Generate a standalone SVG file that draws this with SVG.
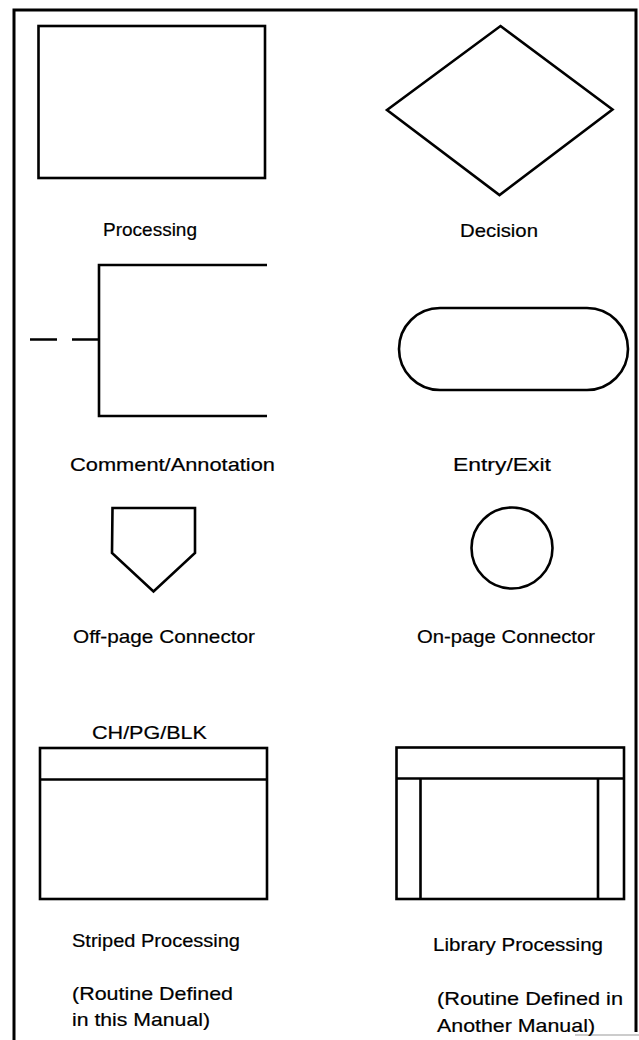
<svg xmlns="http://www.w3.org/2000/svg" width="639" height="1040" viewBox="0 0 639 1040">
<style>
.s{fill:none;stroke:#000;stroke-width:2.6;stroke-linejoin:miter}
.b{fill:none;stroke:#000;stroke-width:3}
.t{font-family:"Liberation Sans",Arial,sans-serif;font-size:19px;fill:#000;stroke:#000;stroke-width:0.2px}
.c{text-anchor:middle}
</style>
<rect width="639" height="1040" fill="#fff"/>
<g id="frame">
<path class="b" d="M14,1040 V10 H636 V1032"/>
<path d="M575,1035 H639" stroke="#ccc" stroke-width="2"/>
</g>
<g id="processing">
<rect class="s" x="38.5" y="26" width="226.5" height="152"/>
<text class="t c" x="150" y="236" textLength="94" lengthAdjust="spacingAndGlyphs">Processing</text>
</g>
<g id="decision">
<polygon class="s" points="500.5,26 612.5,109.5 499.5,195 387,110"/>
<text class="t c" x="499" y="237" textLength="78" lengthAdjust="spacingAndGlyphs">Decision</text>
</g>
<g id="comment">
<path class="s" d="M267,265 H99 V416 H267"/>
<path class="s" d="M30,339.5 H57 M72,339.5 H99" stroke-width="3"/>
<text class="t c" x="172.5" y="471" textLength="205" lengthAdjust="spacingAndGlyphs">Comment/Annotation</text>
</g>
<g id="entry-exit">
<rect class="s" x="399" y="308" width="229" height="82" rx="41" ry="41"/>
<text class="t c" x="502" y="471" textLength="98" lengthAdjust="spacingAndGlyphs">Entry/Exit</text>
</g>
<g id="off-page">
<polygon class="s" points="112.5,508 195,508 195,553 153.5,591.5 112,553"/>
<text class="t c" x="164" y="643" textLength="182" lengthAdjust="spacingAndGlyphs">Off-page Connector</text>
</g>
<g id="on-page">
<circle class="s" cx="512" cy="548" r="40.5"/>
<text class="t c" x="506" y="643" textLength="178" lengthAdjust="spacingAndGlyphs">On-page Connector</text>
</g>
<g id="striped">
<text class="t c" x="149.5" y="739" textLength="115" lengthAdjust="spacingAndGlyphs">CH/PG/BLK</text>
<rect class="s" x="40" y="748" width="227" height="151"/>
<path class="s" d="M40,779.5 H267"/>
<text class="t" x="72" y="947" textLength="168" lengthAdjust="spacingAndGlyphs">Striped Processing</text>
<text class="t" x="72" y="1000" textLength="161" lengthAdjust="spacingAndGlyphs">(Routine Defined</text>
<text class="t" x="72" y="1026" textLength="138" lengthAdjust="spacingAndGlyphs">in this Manual)</text>
</g>
<g id="library">
<rect class="s" x="396.5" y="747.5" width="227.5" height="151.5"/>
<path class="s" d="M396.5,778.5 H624 M420.5,778.5 V899 M598,778.5 V899"/>
<text class="t" x="433" y="951" textLength="170" lengthAdjust="spacingAndGlyphs">Library Processing</text>
<text class="t" x="437" y="1005" textLength="186" lengthAdjust="spacingAndGlyphs">(Routine Defined in</text>
<text class="t" x="437" y="1032" textLength="158" lengthAdjust="spacingAndGlyphs">Another Manual)</text>
</g>
</svg>
